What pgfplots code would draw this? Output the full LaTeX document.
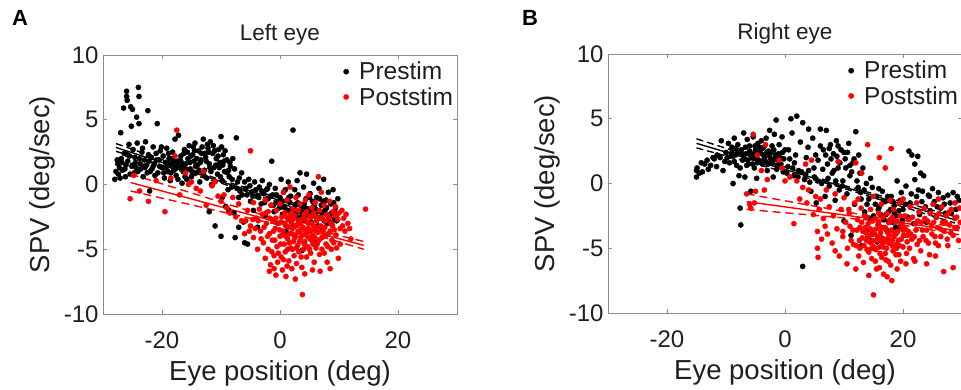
\documentclass[border=0pt]{standalone}
\usepackage{pgfplots}
\pgfplotsset{compat=1.18}
\usepackage{pgfplotstable}
\usepackage{fontspec}
\setmainfont{Liberation Sans}

\definecolor{axgray}{gray}{0.55}
\definecolor{txt}{gray}{0.12}

\pgfplotstableread{
x y
-28.0 0.4
-27.8 1.0
-27.5 1.6
-27.4 0.8
-27.2 1.3
-27.0 4.0
-26.9 2.0
-26.7 1.1
-26.5 5.9
-26.4 2.4
-26.2 0.6
-26.0 7.2
-26.0 6.8
-25.9 6.5
-25.8 1.8
-25.6 3.1
-25.5 2.2
-25.3 6.0
-25.2 4.5
-25.1 1.4
-25.0 5.8
-24.9 2.7
-24.7 0.9
-24.5 1.7
-24.3 5.2
-24.2 3.2
-24.0 7.5
-23.9 6.8
-23.9 4.7
-23.8 2.0
-23.6 1.2
-23.4 2.5
-23.2 0.6
-23.0 1.9
-22.8 3.3
-22.6 1.5
-22.4 5.7
-22.3 2.3
-22.1 -0.5
-22.0 1.0
-21.8 2.1
-21.5 2.9
-21.3 1.6
-21.0 2.4
-20.8 4.7
-20.7 0.9
-20.5 1.9
-20.3 2.6
-20.0 1.3
-19.8 2.2
-19.6 0.5
-19.4 1.7
-19.2 2.8
-19.0 1.0
-18.8 2.0
-18.6 0.3
-18.4 1.5
-18.2 2.5
-18.0 1.1
-17.8 3.5
-17.6 0.7
-17.4 1.8
-17.2 3.8
-17.0 1.3
-16.8 2.2
-16.6 0.1
-16.4 1.0
-16.2 2.7
-16.0 1.6
-15.8 0.4
-15.6 2.0
-15.4 3.0
-15.2 1.2
-15.0 0.6
-14.8 2.3
-14.6 1.8
-14.4 3.2
-14.2 0.9
-14.0 1.5
-13.8 2.6
-13.6 0.2
-13.4 1.9
-13.2 2.9
-13.0 3.5
-12.8 1.1
-12.6 2.1
-12.4 0.5
-12.2 2.8
-12.0 1.6
-11.8 3.3
-11.6 0.0
-11.4 2.4
-11.2 1.3
-11.0 -3.2
-10.8 2.0
-10.6 0.8
-10.4 2.7
-10.2 1.7
-10.0 -4.0
-10.0 3.7
-9.8 0.3
-9.6 2.3
-9.4 1.0
-9.2 -1.7
-9.0 1.9
-8.8 -0.4
-8.6 0.6
-8.4 1.4
-8.2 -0.2
-8.0 2.0
-7.8 -2.2
-7.6 -4.1
-7.4 3.6
-7.2 0.2
-7.0 -1.0
-6.8 -0.5
-6.5 0.9
-6.2 -2.9
-6.0 -4.5
-5.8 -0.3
-5.5 -4.6
-5.3 0.4
-5.0 -1.3
-4.8 -0.6
-4.5 -2.0
-4.3 0.2
-4.0 -0.9
-3.8 -3.3
-3.5 -0.2
-3.2 -1.5
-3.0 0.3
-2.8 -0.7
-2.5 -2.4
-2.3 -0.4
-2.0 -1.1
-1.8 0.0
-1.5 -1.6
-1.4 1.8
-1.2 -0.8
-1.0 -2.1
-0.8 -0.3
-0.5 -1.4
-0.3 -3.0
0.0 -1.0
0.2 0.4
0.4 -2.3
0.6 -0.6
0.8 -1.8
1.0 -3.6
1.2 -1.2
1.4 0.2
1.6 -2.6
1.8 -0.9
2.0 -1.9
2.2 4.2
2.3 -3.2
2.5 -0.4
2.7 -2.2
2.9 0.3
3.0 -1.4
3.2 -3.0
3.4 0.9
3.5 -2.5
3.7 -5.1
3.8 -1.7
4.0 -0.2
4.2 -2.8
4.4 -1.1
4.5 0.8
4.7 -3.6
4.9 -2.0
5.1 -0.7
5.3 -2.9
5.5 -1.3
5.7 0.1
5.9 -4.4
6.0 -2.3
6.2 -1.0
6.4 -3.2
6.6 -0.3
6.8 -2.6
7.0 -1.6
7.2 -3.4
7.4 0.4
7.6 -2.0
7.8 -1.2
8.0 -3.0
8.2 -0.6
8.4 -2.4
8.6 -1.5
8.8 -3.1
9.0 -0.4
9.2 -2.1
9.4 -1.8
9.6 -2.8
9.8 -1.1
-27.6 1.9
-27.1 0.5
-26.8 1.7
-26.3 1.2
-25.9 2.3
-25.4 0.8
-25.0 1.5
-24.6 2.1
-24.1 1.0
-23.7 1.6
-23.3 2.8
-22.9 1.3
-22.5 0.9
-22.2 1.8
-21.7 1.2
-21.2 0.7
-20.9 1.9
-20.4 1.4
-20.1 2.9
-19.7 0.9
-19.3 1.3
-18.9 2.4
-18.5 0.9
-18.1 1.8
-17.7 1.2
-17.3 0.4
-16.9 1.9
-16.5 1.4
-16.1 0.6
-15.7 2.5
-15.3 1.7
-14.9 1.0
-14.5 2.6
-14.1 2.0
-13.7 1.1
-13.3 2.4
-12.9 0.7
-12.5 1.8
-12.1 2.5
-11.7 1.0
-11.3 3.0
-10.9 1.5
-10.5 2.2
-10.1 0.6
-9.7 1.5
-9.3 2.6
-8.9 0.9
-8.5 1.7
-8.1 0.4
-7.7 1.2
-7.3 -0.3
-6.9 0.5
-6.4 -0.8
-6.0 0.2
-5.6 -0.8
-5.1 -0.1
-4.6 -0.9
-4.1 -0.4
-3.6 -1.0
-3.1 -0.5
-2.6 -1.4
-2.1 -0.3
-1.6 -0.9
-1.1 -1.6
-0.6 -0.8
-0.1 -1.8
0.4 -1.3
0.9 -0.4
1.3 -2.0
1.7 -1.4
2.1 -2.7
2.6 -1.6
3.1 -0.8
3.6 -2.1
4.1 -1.5
4.6 -2.4
5.0 -1.0
5.4 -2.1
5.8 -1.6
6.3 -2.7
6.7 -1.1
7.1 -2.2
7.5 -2.8
7.9 -1.8
8.3 -2.9
8.7 -2.2
9.1 -1.4
9.5 -2.4
-12.0 -2.1
-9.8 -1.0
-8.7 -2.0
-7.0 -3.3
-19.0 1.6
-18.3 2.0
-17.5 1.5
-16.7 1.7
-15.9 1.2
-15.1 2.2
-14.3 1.4
-13.5 1.7
-12.7 2.4
-11.9 1.3
-11.1 2.6
-10.3 1.3
-9.5 1.8
-8.7 1.1
-21.5 1.4
-23.1 1.4
-24.4 1.3
-26.1 1.5
-12.3 3.1
-9.9 2.9
-14.7 2.9
-16.3 2.4
0.5 -1.7
1.5 -1.0
2.8 -2.5
4.4 -1.9
6.0 -1.9
7.3 -1.3
8.1 -2.4
9.3 -2.7
}\preA

\pgfplotstableread{
x y
-25.4 -1.1
-24.8 0.7
-23.8 -0.5
-22.3 -1.3
-21.0 0.3
-19.5 -2.1
-18.5 0.5
-17.8 2.2
-17.5 4.2
-17.0 -0.8
-16.0 0.9
-15.5 0.0
-15.0 0.2
-14.2 -0.3
-13.5 -0.5
-13.0 1.0
-12.5 -1.6
-11.5 -0.1
-11.0 0.2
-10.5 -0.9
-10.0 -1.3
-9.5 -0.8
-9.0 -1.8
-8.5 -2.2
-8.0 -1.0
-7.5 -2.5
-7.0 -1.5
-6.5 -2.8
-6.0 -3.8
-5.5 -2.0
-5.0 2.6
-5.0 -3.2
-4.5 -1.4
-4.5 -4.1
-4.0 -2.6
-3.8 -5.0
-3.5 -1.9
-3.3 -3.6
-3.0 -2.3
-2.8 -4.5
-2.5 -1.2
-2.3 -3.0
-2.0 -5.0
-2.0 -2.1
-1.8 -3.8
-1.6 -6.2
-1.5 -1.6
-1.3 -4.3
-1.2 -2.8
-1.0 -5.5
-1.0 -6.5
-0.8 -3.4
-0.6 -2.0
-0.5 -4.8
-0.4 -6.0
-0.2 -3.0
0.0 -1.5
0.0 -4.0
0.2 -5.6
0.3 -2.5
0.4 -6.6
0.5 -3.6
0.6 -0.6
0.7 -4.6
0.8 -2.2
0.9 -5.2
1.0 -7.1
1.0 -3.2
1.2 -1.2
1.3 -4.2
1.4 -2.7
1.5 -5.9
1.6 -3.8
1.7 -0.2
1.8 -4.9
1.9 -2.9
2.0 -6.5
2.1 -3.4
2.2 -1.9
2.3 -4.4
2.4 -5.5
2.5 -2.4
2.6 -3.9
2.7 -1.0
2.8 -6.1
2.9 -3.1
3.0 -4.7
3.1 -2.0
3.2 -5.2
3.3 -3.6
3.4 -1.5
3.5 -4.1
3.6 -2.7
3.7 -6.4
3.8 -8.5
3.9 -3.3
4.0 -5.0
4.1 -2.3
4.2 -4.4
4.3 -1.2
4.4 -3.8
4.5 -5.6
4.6 -2.9
4.7 -4.8
4.8 -3.4
4.9 -0.8
5.0 -2.5
5.1 -4.2
5.2 -5.3
5.3 -3.0
5.4 -1.8
5.5 -3.9
5.6 -4.6
5.7 -2.2
5.8 -6.0
5.9 -3.5
6.0 -1.4
6.1 -4.9
6.2 -2.8
6.4 -3.7
6.5 0.6
6.6 -4.3
6.7 -2.0
6.8 -6.7
6.9 -3.2
7.0 -0.6
7.1 -5.0
7.2 -2.6
7.4 -4.0
7.5 -1.6
7.6 -3.3
7.8 -4.6
8.0 -6.0
8.0 -2.3
8.2 -3.8
8.4 -1.3
8.6 -3.0
8.8 -4.3
9.0 -2.1
9.2 -3.5
9.4 -1.7
9.6 -4.9
9.8 -2.7
10.0 -2.2
10.2 -3.4
10.5 -2.0
10.8 -2.6
11.0 -3.6
11.5 -3.0
12.0 -4.2
14.5 -1.9
-5.8 -2.8
-5.2 -3.6
-4.6 -2.7
-4.2 -3.4
-3.7 -2.8
-3.2 -4.2
-2.7 -3.3
-2.4 -2.2
-2.1 -4.0
-1.7 -2.6
-1.4 -5.2
-1.1 -3.6
-0.9 -4.3
-0.7 -2.6
-0.3 -5.3
-0.1 -3.5
0.1 -4.6
0.2 -2.9
0.4 -3.9
0.6 -5.8
0.8 -3.0
1.0 -4.0
1.1 -2.5
1.3 -5.0
1.5 -3.3
1.6 -4.5
1.8 -2.3
2.0 -3.8
2.1 -5.0
2.3 -2.6
2.5 -4.1
2.6 -3.2
2.8 -4.9
3.0 -3.7
3.1 -2.8
3.3 -4.4
3.5 -3.0
3.6 -5.6
3.8 -3.9
4.0 -2.6
4.1 -4.6
4.3 -3.5
4.5 -2.1
4.6 -4.0
4.8 -3.0
5.0 -5.0
5.1 -3.6
5.3 -2.5
5.5 -4.4
5.7 -3.2
5.9 -4.1
6.1 -2.5
6.3 -4.6
6.5 -3.3
6.7 -5.4
6.9 -2.6
7.1 -4.1
7.3 -3.6
7.5 -5.3
7.7 -2.8
7.9 -3.9
8.1 -4.8
8.3 -2.6
8.5 -3.6
8.7 -5.0
8.9 -3.2
9.1 -4.5
9.3 -2.4
9.5 -3.9
10.2 -4.6
10.6 -3.2
11.2 -2.3
11.8 -3.4
9.9 -5.7
8.5 -6.5
4.2 -6.9
2.6 -7.3
-0.7 -7.0
-1.8 -6.7
5.5 -6.6
1.2 -6.3
-2.5 -5.7
}\postA

\pgfplotstableread{
x y
-15.0 0.5
-15.0 1.0
-14.9 1.2
-14.5 0.8
-14.2 1.6
-14.0 0.9
-13.6 1.5
-13.2 1.8
-13.0 1.1
-12.6 1.4
-12.2 2.0
-12.0 1.9
-11.6 1.3
-11.0 2.0
-10.8 3.3
-10.5 1.0
-10.0 2.4
-9.6 3.1
-9.4 1.6
-9.0 2.8
-8.8 0.0
-8.6 3.5
-8.4 2.2
-8.2 1.4
-8.0 3.0
-7.8 0.6
-7.6 -1.9
-7.5 -3.2
-7.4 2.6
-7.2 1.8
-7.0 3.9
-6.8 0.5
-6.6 2.3
-6.4 3.4
-6.2 1.5
-6.0 2.9
-5.8 -0.6
-5.6 2.0
-5.4 3.6
-5.2 1.2
-5.0 2.6
-4.8 0.4
-4.6 3.1
-4.4 1.8
-4.2 2.4
-4.0 3.3
-3.8 1.5
-3.6 2.8
-3.4 2.1
-3.2 3.5
-3.0 1.0
-2.8 2.5
-2.6 4.1
-2.4 1.7
-2.2 2.9
-2.0 0.5
-1.8 3.8
-1.6 2.2
-1.5 4.9
-1.3 1.4
-1.0 3.0
-0.8 2.0
-0.5 3.6
-0.3 0.9
0.0 2.6
0.5 1.3
1.0 5.0
1.2 3.9
1.5 0.6
1.8 2.2
2.0 5.2
2.3 1.0
2.6 3.2
3.0 -6.4
3.0 4.7
3.3 0.3
3.6 2.0
4.0 4.2
4.0 1.0
4.4 -0.6
4.7 3.5
5.0 0.5
5.3 -1.5
5.6 1.8
6.0 4.2
6.2 0.0
6.5 2.6
6.8 -1.0
7.0 4.1
7.2 1.5
7.5 -0.2
7.7 3.0
8.0 0.8
8.2 2.3
8.5 -1.3
8.7 3.3
9.0 1.2
9.2 -0.5
9.5 2.6
9.8 0.2
10.0 -2.9
10.2 1.9
10.5 -0.8
10.8 3.1
11.0 0.6
11.2 -4.0
11.5 1.6
11.8 -1.6
12.0 4.0
12.2 0.2
12.5 2.2
12.8 -0.7
13.0 -4.8
13.2 1.2
13.5 -2.2
13.8 0.0
14.0 -3.6
14.2 -1.2
14.5 -4.4
14.8 -0.3
15.0 -2.5
15.2 -5.0
15.5 -1.0
15.8 -3.2
16.0 -1.8
16.3 -4.2
16.5 -0.6
16.8 -2.8
17.0 -1.4
17.2 -3.6
17.5 -2.2
17.8 -4.6
18.0 -1.0
18.2 -3.0
18.5 -1.7
18.8 -2.5
19.0 0.2
19.2 -3.4
19.5 -1.3
20.0 -2.0
20.2 -4.0
20.5 -0.2
21.0 2.5
21.2 -1.5
21.5 2.2
21.8 -3.1
22.0 1.5
22.0 0.3
22.3 -1.0
22.5 2.1
22.8 -2.4
23.0 0.8
23.3 -0.6
23.5 0.6
23.8 -1.8
24.0 -3.0
24.3 -0.9
24.6 -2.1
25.0 -0.4
25.3 -1.4
25.6 -2.6
26.0 -0.7
26.4 -1.9
26.8 -1.1
27.2 -2.3
27.6 -0.9
28.0 -1.5
28.5 -0.7
29.0 -2.0
29.5 -1.3
-11.5 2.2
-10.2 1.7
-9.2 2.1
-8.6 1.7
-8.0 2.4
-7.6 1.2
-7.0 2.0
-6.7 2.8
-6.3 1.8
-5.9 2.2
-5.5 1.5
-5.1 2.9
-4.9 1.9
-4.5 2.3
-4.1 1.6
-3.9 2.7
-3.5 1.9
-3.1 2.4
-2.9 1.5
-2.5 2.0
-2.1 1.6
-1.9 2.6
-1.4 1.1
-1.1 2.3
-0.7 1.5
-0.2 1.9
0.3 0.8
0.8 1.9
1.3 1.2
2.2 0.5
2.8 0.9
3.5 0.7
4.2 0.1
4.9 1.2
5.5 0.2
6.0 2.9
6.4 1.1
6.9 2.2
7.3 0.4
7.8 1.9
8.3 1.0
8.8 2.1
9.3 1.6
9.7 -0.2
10.3 1.2
10.6 2.4
11.3 0.9
11.7 1.9
12.4 -0.3
12.9 -1.2
13.4 -0.5
13.9 -1.6
14.4 -2.7
15.3 -1.6
15.9 -0.4
16.2 -2.4
16.7 -1.4
17.4 -1.0
17.9 -2.0
18.3 -1.4
18.7 -3.4
19.3 -2.1
19.7 -0.7
20.4 -1.6
20.8 -2.6
21.4 -0.8
22.6 -0.5
23.2 -1.4
24.5 -1.0
25.8 -1.8
27.0 -1.6
28.2 -2.3
29.2 -1.0
16.6 -3.4
17.6 -3.0
15.6 -4.5
14.8 -3.9
-9.8 2.0
-9.0 2.4
-8.3 2.7
-7.3 2.3
-6.5 1.4
-6.0 2.5
-5.3 2.3
-4.7 1.6
-4.3 2.8
-3.7 2.2
-3.3 1.7
-2.7 2.2
-2.3 2.4
-1.7 1.9
-1.2 1.8
-0.4 2.4
0.6 2.6
1.6 1.6
3.9 2.8
5.2 2.2
7.5 2.7
9.0 2.9
10.0 2.4
11.0 1.4
8.6 0.2
12.7 0.8
14.5 0.4
15.8 -2.0
17.1 -2.4
18.5 -2.3
19.9 -2.8
}\preB

\pgfplotstableread{
x y
-6.5 -0.8
-6.0 -1.6
-5.8 -1.9
-5.4 3.8
-5.2 -1.5
-5.0 -0.6
-4.7 2.2
-4.0 1.0
-3.5 -0.5
-3.3 3.0
-3.0 0.3
-1.0 1.8
-0.5 1.2
0.0 0.2
0.8 0.5
1.5 -3.1
2.0 0.2
2.5 -1.2
3.0 -0.3
3.5 1.5
3.7 -1.5
4.0 -0.5
4.5 1.8
4.8 -2.4
5.2 -1.0
5.5 -3.7
5.6 -5.7
5.8 -2.0
6.0 -1.2
6.2 -4.3
6.5 -2.7
7.0 -0.5
7.2 -3.9
7.5 -1.8
8.0 -4.6
8.2 -2.5
8.5 -0.8
8.8 -3.5
9.0 1.7
9.2 -5.6
9.5 -2.0
9.8 -4.1
10.0 -1.1
10.3 -3.0
10.6 -5.0
10.9 -2.3
11.2 -4.4
11.5 -3.6
11.8 -1.5
12.0 1.6
12.1 -4.8
12.3 -2.8
12.5 -5.6
12.7 -3.4
12.9 -1.9
13.0 0.8
13.1 -4.2
13.3 -6.1
13.5 -2.5
13.7 -3.8
13.9 -5.1
14.0 3.0
14.1 -3.1
14.3 -4.5
14.5 -2.0
14.7 -5.8
14.9 -3.6
15.0 -8.6
15.1 -4.9
15.3 -2.7
15.5 -6.6
15.7 -4.1
15.9 -3.2
16.0 2.0
16.1 -5.4
16.3 -1.6
16.5 -4.6
16.7 -7.0
16.9 -3.5
17.0 1.2
17.1 -5.9
17.3 -2.3
17.5 -4.2
17.7 -3.0
17.9 -6.3
18.0 2.7
18.1 -7.5
18.2 -4.8
18.4 -2.0
18.6 -3.8
18.8 -5.5
19.0 -2.9
19.2 -4.4
19.4 -1.5
19.6 -6.0
19.8 -3.4
20.0 -4.9
20.3 -2.5
20.6 -5.4
20.9 -3.7
21.2 -1.8
21.5 -4.3
21.8 -5.8
22.1 -3.1
22.4 -4.7
22.7 -2.2
23.0 -5.2
23.3 -3.6
23.6 -1.9
23.9 -4.4
24.2 -2.9
24.5 -5.5
24.8 -3.3
25.1 -1.6
25.4 -4.1
25.7 -2.6
26.0 -4.8
26.3 -3.5
26.6 -1.8
26.9 -6.8
27.2 -3.0
27.5 -4.3
27.8 -2.2
28.1 -3.8
28.5 -6.5
28.8 -2.7
29.2 -3.4
29.6 -1.9
11.0 -3.3
11.6 -4.7
12.2 -3.6
12.6 -4.4
13.0 -3.0
13.4 -4.8
13.6 -3.4
14.0 -4.1
14.2 -5.3
14.4 -3.5
14.6 -4.6
14.8 -2.9
15.2 -3.9
15.4 -5.1
15.6 -4.4
15.8 -3.0
16.0 -4.9
16.2 -3.8
16.4 -5.7
16.6 -2.6
16.8 -4.3
17.0 -3.4
17.2 -5.0
17.4 -3.8
17.6 -4.6
17.8 -2.8
18.0 -3.6
18.3 -5.2
18.5 -4.1
18.7 -3.0
18.9 -4.7
19.1 -3.7
19.3 -5.5
19.5 -2.5
19.7 -4.3
19.9 -3.1
20.1 -4.0
20.4 -3.5
20.7 -4.5
21.0 -2.8
21.3 -3.9
21.6 -2.6
21.9 -4.1
22.2 -3.6
22.5 -2.9
22.8 -4.4
23.1 -3.0
23.4 -4.1
23.7 -2.7
24.0 -3.6
24.3 -4.6
24.6 -2.3
24.9 -3.9
25.2 -3.0
25.5 -4.6
25.8 -3.4
26.1 -2.3
26.4 -4.1
26.7 -3.0
27.0 -3.7
27.3 -2.5
27.6 -4.8
27.9 -3.2
28.2 -2.0
28.5 -4.0
28.8 -3.4
29.1 -2.6
29.4 -4.4
29.7 -3.0
10.5 -6.2
12.0 -6.6
14.2 -7.1
16.0 -6.5
17.3 -7.2
19.0 -6.6
20.5 -6.2
22.0 -6.0
24.0 -6.2
25.5 -5.6
5.5 -5.0
6.8 -3.3
8.5 -5.2
9.8 -3.7
10.8 -2.0
12.4 -1.2
15.0 -1.0
17.8 -1.3
20.0 -1.2
22.3 -1.5
26.0 -1.2
28.8 -1.5
13.2 -3.7
13.8 -4.4
14.4 -4.0
15.0 -4.4
15.5 -3.5
16.1 -4.2
16.6 -4.9
17.1 -4.5
17.7 -4.0
18.2 -4.4
18.8 -3.9
19.4 -4.8
20.0 -3.6
14.7 -5.0
17.0 -5.4
18.9 -5.0
16.3 -3.4
12.7 -5.0
19.6 -3.2
20.8 -4.0
13.9 -2.6
15.9 -2.3
18.2 -2.6
21.1 -5.0
15.3 -6.0
17.5 -6.0
}\postB

\pgfplotsset{
  panel/.style={
    scale only axis, width=354pt, height=259pt,
    xmin=-30, xmax=30, ymin=-10, ymax=10,
    xtick={-20,0,20}, xticklabels={-20,0,20},
    ytick={-10,-5,0,5,10}, yticklabels={-10,-5,0,5,10},
    tick align=inside, major tick length=4pt,
    axis line style={axgray, line width=0.8pt},
    tick style={axgray, line width=0.8pt},
    ticklabel style={font=\fontsize{24}{24}\selectfont, text=txt},
    xticklabel style={yshift=-14pt},
    yticklabel style={xshift=-1pt},
    label style={font=\fontsize{27.5}{27.5}\selectfont, text=txt},
    xlabel style={at={(axis description cs:0.5,-0.2278)}, anchor=center},
    ylabel style={at={(axis description cs:-0.1723,0.5)}, anchor=center},
    title style={font=\fontsize{22.5}{22.5}\selectfont, text=txt, at={(axis description cs:0.5,1)}, anchor=center, yshift=14pt},
    xlabel={Eye position (deg)}, ylabel={SPV (deg/sec)},
    legend style={draw=none, fill=none, at={(axis description cs:0.998,0.985)}, anchor=north east,
      font=\fontsize{24.5}{26}\selectfont, text=txt, inner sep=1pt, row sep=2pt},
    legend cell align=left,
    legend image code/.code={\path[draw=none] (-3pt,0pt) -- (11pt,0pt); \fill (0pt,0pt) circle (2.6pt);},
    clip=true,
  },
  pts/.style={only marks, mark=*, mark size=2.6pt, mark options={draw=none}},
}

\begin{document}
\begin{tikzpicture}
\useasboundingbox (0,0) rectangle (961pt,389pt);
\node[font=\bfseries\fontsize{22}{22}\selectfont] at (20pt,371pt) {A};
\node[font=\bfseries\fontsize{22}{22}\selectfont] at (530pt,371pt) {B};

\begin{axis}[panel, at={(103pt,75pt)}, anchor=south west, title={Left eye}]
\addplot[pts, black] table {\preA};
\addlegendentry{Prestim}
\addplot[pts, red] table {\postA};
\addlegendentry{Poststim}
\addplot[forget plot, black, line width=1.4pt] coordinates {(-27.8,2.86) (9.2,-2.6)};
\addplot[forget plot, black, line width=1.4pt, dash pattern=on 7pt off 4pt] coordinates {(-27.8,3.16) (-10,0.35) (9.2,-2.36)};
\addplot[forget plot, black, line width=1.4pt, dash pattern=on 7pt off 4pt] coordinates {(-27.8,2.56) (-10,0.11) (9.2,-2.84)};
\addplot[forget plot, red, line width=1.4pt] coordinates {(-25.3,0.15) (14.2,-4.7)};
\addplot[forget plot, red, line width=1.4pt, dash pattern=on 8pt off 5pt] coordinates {(-25.3,0.8) (2,-3.05) (14.2,-4.4)};
\addplot[forget plot, red, line width=1.4pt, dash pattern=on 8pt off 5pt] coordinates {(-25.3,-0.5) (2,-3.35) (14.2,-5.0)};
\end{axis}

\begin{axis}[panel, at={(608pt,76pt)}, anchor=south west, title={Right eye}]
\addplot[pts, black] table {\preB};
\addlegendentry{Prestim}
\addplot[pts, red] table {\postB};
\addlegendentry{Poststim}
\addplot[forget plot, black, line width=1.4pt] coordinates {(-15,3.1) (28.8,-2.8)};
\addplot[forget plot, black, line width=1.4pt, dash pattern=on 7pt off 4pt] coordinates {(-15,3.45) (8,0.1) (28.8,-2.55)};
\addplot[forget plot, black, line width=1.4pt, dash pattern=on 7pt off 4pt] coordinates {(-15,2.75) (8,-0.1) (28.8,-3.05)};
\addplot[forget plot, red, line width=1.4pt] coordinates {(-6.5,-1.4) (29.5,-3.65)};
\addplot[forget plot, red, line width=1.4pt, dash pattern=on 8pt off 5pt] coordinates {(-6.5,-0.8) (16,-2.65) (29.5,-3.35)};
\addplot[forget plot, red, line width=1.4pt, dash pattern=on 8pt off 5pt] coordinates {(-6.5,-2.0) (16,-2.9) (29.5,-3.95)};
\end{axis}
\end{tikzpicture}
\end{document}
